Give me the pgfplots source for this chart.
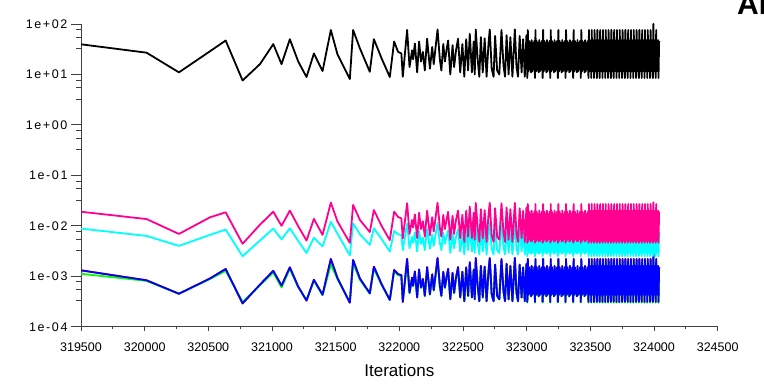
\documentclass[border=0pt]{standalone}
\usepackage{pgfplots}
\pgfplotsset{compat=1.18}
\usepackage{pgfplotstable}
\usepackage{fontspec}
\setmainfont{Liberation Sans}
\newfontfamily\ylabfont[LetterSpace=13]{Liberation Sans}
\definecolor{rpink}{HTML}{FF0090}
\definecolor{rcyan}{HTML}{00FFFF}
\definecolor{rgreen}{HTML}{00FF00}
\definecolor{rblue}{HTML}{0000FF}
\definecolor{rred}{HTML}{FF0000}
\definecolor{axgray}{HTML}{404040}

\pgfplotstableread{
it c e k z y
319500 39.6 0.019 0.0088 0.00131 0.00112
320015 27 0.0136 0.0063 0.00083 0.00081
320269 11 0.0069 0.0040 0.00045 0.00045
320512 28.7 0.0147 0.0066 0.0009 0.00088
320636 47 0.0185 0.0084 0.00139 0.00128
320769 7.6 0.0044 0.0025 0.00029 0.00031
320905 16 0.0105 0.0051 0.00068 0.00066
321010 40 0.019 0.0088 0.00128 0.00118
321075 16 0.010 0.0054 0.00065 0.0006
321140 50 0.020 0.0089 0.0015 0.0014
321206 18 0.0098 0.0050 0.00062 0.0006
321271 8.9 0.0051 0.0029 0.00033 0.00034
321329 26 0.0137 0.0058 0.00085 0.00082
321397 11.7 0.0066 0.0039 0.00043 0.00042
321462 76 0.0288 0.012 0.0022 0.0017
321514 25 0.0122 0.0070 0.00092 0.00088
321611 8.1 0.0046 0.0026 0.0003 0.00031
321637 76 0.0259 0.0112 0.0021 0.0018
321690 33 0.0131 0.0068 0.0009 0.00085
321768 11.3 0.0075 0.0042 0.00046 0.00045
321800 50 0.0205 0.0089 0.00155 0.0014
321860 21 0.010 0.0055 0.0007 0.00068
321925 8.9 0.0052 0.0031 0.00034 0.00034
321959 45 0.019 0.0079 0.00133 0.00125
321990 28 0.015 0.0068 0.0011 0.00105
322016 26 0.014 0.0066 0.00105 0.001
322027 9 0.0056 0.0033 0.00031 0.00032
322061 76 0.028 0.011 0.0022 0.0019
322080 14 0.0069 0.0036 0.00047 0.00046
322100 30 0.013 0.006 0.00094 0.0009
322108 20 0.0093 0.0046 0.00065 0.00063
322122 41 0.0168 0.0074 0.00125 0.00118
322140 11 0.0057 0.0031 0.00038 0.00038
322155 45 0.0182 0.0079 0.00136 0.00128
322170 18 0.0086 0.0044 0.0006 0.00058
322185 28 0.0123 0.0058 0.00088 0.00085
322200 12 0.0061 0.0033 0.00041 0.0004
322218 51 0.020 0.0086 0.00152 0.0014
322240 13 0.0065 0.0035 0.00044 0.00043
322258 35 0.0148 0.0067 0.00109 0.00104
322270 16 0.0077 0.0040 0.00053 0.00052
322300 78 0.0285 0.0114 0.0023 0.002
322318 20 0.0093 0.0046 0.00065 0.00063
322330 12 0.0061 0.0033 0.00041 0.0004
322345 40 0.0165 0.0073 0.00123 0.00116
322358 18 0.0086 0.0044 0.0006 0.00058
322370 30 0.013 0.006 0.00094 0.0009
322383 47 0.0189 0.0082 0.0014 0.0013
322400 10 0.0053 0.0029 0.00035 0.00035
322418 38 0.0158 0.0071 0.00117 0.0011
322430 14 0.0069 0.0036 0.00047 0.00046
322445 30 0.013 0.006 0.00094 0.0009
322461 51 0.020 0.0086 0.00152 0.0014
322478 11 0.0057 0.0031 0.00038 0.00038
322495 40 0.0165 0.0073 0.00123 0.00116
322510 9 0.0048 0.0027 0.00032 0.00032
322525 50 0.0198 0.0085 0.0015 0.0014
322540 12 0.0061 0.0033 0.00041 0.0004
322553 64 0.024 0.0100 0.0019 0.0017
322570 11 0.0057 0.0031 0.00038 0.00038
322584 45 0.0182 0.0079 0.00136 0.00128
322592 10 0.0053 0.0029 0.00035 0.00035
322600 78 0.0285 0.0114 0.0023 0.002
322615 20 0.0093 0.0046 0.00065 0.00063
322628 9 0.0048 0.0027 0.00032 0.00032
322640 55 0.0213 0.0091 0.0016 0.0015
322655 11 0.0057 0.0031 0.00038 0.00038
322670 52 0.0204 0.0087 0.00155 0.00145
322685 9 0.0048 0.0027 0.00032 0.00032
322700 40 0.0165 0.0073 0.00123 0.00116
322710 78 0.0285 0.0114 0.0023 0.002
322725 13 0.0065 0.0035 0.00044 0.00043
322740 9 0.0048 0.0027 0.00032 0.00032
322752 58 0.0223 0.0094 0.0017 0.0016
322768 12 0.0061 0.0033 0.00041 0.0004
322785 10 0.0053 0.0029 0.00035 0.00035
322802 76 0.028 0.0112 0.0022 0.0019
322818 15 0.0073 0.0038 0.0005 0.00049
322830 9 0.0048 0.0027 0.00032 0.00032
322842 60 0.023 0.0096 0.00177 0.0016
322858 10 0.0053 0.0029 0.00035 0.00035
322872 55 0.0213 0.0091 0.0016 0.0015
322888 9 0.0048 0.0027 0.00032 0.00032
322907 78 0.0285 0.0114 0.0023 0.002
322920 14 0.0069 0.0036 0.00047 0.00046
322932 9 0.0048 0.0027 0.00032 0.00032
322945 58 0.0223 0.0094 0.0017 0.0016
322960 11 0.0057 0.0031 0.00038 0.00038
322972 50 0.0198 0.0085 0.0015 0.0014
322985 9 0.0048 0.0027 0.00032 0.00032
322998 60 0.023 0.0096 0.00177 0.0016
323005 8.5 0.0046 0.0025 0.00031 0.0003
323009 76 0.027 0.0105 0.0022 0.0019
323014 11.5 0.0050 0.0029 0.00043 0.00042
323019 46 0.019 0.0075 0.0015 0.0014
323024 12.5 0.0055 0.0031 0.00046 0.00045
323029 42 0.017 0.0070 0.0013 0.0012
323034 11 0.0049 0.0028 0.0004 0.0004
323039 48 0.020 0.0078 0.0016 0.0015
323044 11.5 0.0050 0.0029 0.00043 0.00042
323049 42 0.017 0.0070 0.0013 0.0012
323054 12.5 0.0055 0.0031 0.00046 0.00045
323059 46 0.019 0.0075 0.0015 0.0014
323065 8.5 0.0046 0.0025 0.00031 0.0003
323069 76 0.027 0.0105 0.0022 0.0019
323074 11.5 0.0050 0.0029 0.00043 0.00042
323079 46 0.019 0.0075 0.0015 0.0014
323084 12.5 0.0055 0.0031 0.00046 0.00045
323089 42 0.017 0.0070 0.0013 0.0012
323094 11 0.0049 0.0028 0.0004 0.0004
323099 48 0.020 0.0078 0.0016 0.0015
323104 11.5 0.0050 0.0029 0.00043 0.00042
323109 42 0.017 0.0070 0.0013 0.0012
323114 12.5 0.0055 0.0031 0.00046 0.00045
323119 46 0.019 0.0075 0.0015 0.0014
323125 8.5 0.0046 0.0025 0.00031 0.0003
323129 76 0.027 0.0105 0.0022 0.0019
323134 11.5 0.0050 0.0029 0.00043 0.00042
323139 46 0.019 0.0075 0.0015 0.0014
323144 12.5 0.0055 0.0031 0.00046 0.00045
323149 42 0.017 0.0070 0.0013 0.0012
323154 11 0.0049 0.0028 0.0004 0.0004
323159 48 0.020 0.0078 0.0016 0.0015
323164 11.5 0.0050 0.0029 0.00043 0.00042
323169 42 0.017 0.0070 0.0013 0.0012
323174 12.5 0.0055 0.0031 0.00046 0.00045
323179 46 0.019 0.0075 0.0015 0.0014
323185 8.5 0.0046 0.0025 0.00031 0.0003
323189 76 0.027 0.0105 0.0022 0.0019
323194 11.5 0.0050 0.0029 0.00043 0.00042
323199 46 0.019 0.0075 0.0015 0.0014
323204 12.5 0.0055 0.0031 0.00046 0.00045
323209 42 0.017 0.0070 0.0013 0.0012
323214 11 0.0049 0.0028 0.0004 0.0004
323219 48 0.020 0.0078 0.0016 0.0015
323224 11.5 0.0050 0.0029 0.00043 0.00042
323229 42 0.017 0.0070 0.0013 0.0012
323234 12.5 0.0055 0.0031 0.00046 0.00045
323239 46 0.019 0.0075 0.0015 0.0014
323245 8.5 0.0046 0.0025 0.00031 0.0003
323249 76 0.027 0.0105 0.0022 0.0019
323254 11.5 0.0050 0.0029 0.00043 0.00042
323259 46 0.019 0.0075 0.0015 0.0014
323264 12.5 0.0055 0.0031 0.00046 0.00045
323269 42 0.017 0.0070 0.0013 0.0012
323274 11 0.0049 0.0028 0.0004 0.0004
323279 48 0.020 0.0078 0.0016 0.0015
323284 11.5 0.0050 0.0029 0.00043 0.00042
323289 42 0.017 0.0070 0.0013 0.0012
323294 12.5 0.0055 0.0031 0.00046 0.00045
323299 46 0.019 0.0075 0.0015 0.0014
323305 8.5 0.0046 0.0025 0.00031 0.0003
323309 76 0.027 0.0105 0.0022 0.0019
323314 11.5 0.0050 0.0029 0.00043 0.00042
323319 46 0.019 0.0075 0.0015 0.0014
323324 12.5 0.0055 0.0031 0.00046 0.00045
323329 42 0.017 0.0070 0.0013 0.0012
323334 11 0.0049 0.0028 0.0004 0.0004
323339 48 0.020 0.0078 0.0016 0.0015
323344 11.5 0.0050 0.0029 0.00043 0.00042
323349 42 0.017 0.0070 0.0013 0.0012
323354 12.5 0.0055 0.0031 0.00046 0.00045
323359 46 0.019 0.0075 0.0015 0.0014
323365 8.5 0.0046 0.0025 0.00031 0.0003
323369 76 0.027 0.0105 0.0022 0.0019
323374 11.5 0.0050 0.0029 0.00043 0.00042
323379 46 0.019 0.0075 0.0015 0.0014
323384 12.5 0.0055 0.0031 0.00046 0.00045
323389 42 0.017 0.0070 0.0013 0.0012
323394 11 0.0049 0.0028 0.0004 0.0004
323399 48 0.020 0.0078 0.0016 0.0015
323404 11.5 0.0050 0.0029 0.00043 0.00042
323409 42 0.017 0.0070 0.0013 0.0012
323414 12.5 0.0055 0.0031 0.00046 0.00045
323419 46 0.019 0.0075 0.0015 0.0014
323425 8.5 0.0046 0.0025 0.00031 0.0003
323429 76 0.027 0.0105 0.0022 0.0019
323434 11.5 0.0050 0.0029 0.00043 0.00042
323439 46 0.019 0.0075 0.0015 0.0014
323444 12.5 0.0055 0.0031 0.00046 0.00045
323449 42 0.017 0.0070 0.0013 0.0012
323454 11 0.0049 0.0028 0.0004 0.0004
323459 48 0.020 0.0078 0.0016 0.0015
323464 11.5 0.0050 0.0029 0.00043 0.00042
323469 42 0.017 0.0070 0.0013 0.0012
323474 12.5 0.0055 0.0031 0.00046 0.00045
323479 46 0.019 0.0075 0.0015 0.0014
323485 8.5 0.0046 0.0025 0.00031 0.0003
323489 76 0.027 0.0105 0.0022 0.0019
323493 11.5 0.0050 0.0029 0.00043 0.00042
323497 46 0.019 0.0075 0.0015 0.0014
323501 12.5 0.0055 0.0031 0.00046 0.00045
323504 48 0.020 0.0078 0.0016 0.0015
323507 8.5 0.0046 0.0025 0.00031 0.0003
323511 76 0.027 0.0105 0.0022 0.0019
323515 11.5 0.0050 0.0029 0.00043 0.00042
323519 46 0.019 0.0075 0.0015 0.0014
323523 12.5 0.0055 0.0031 0.00046 0.00045
323526 48 0.020 0.0078 0.0016 0.0015
323529 8.5 0.0046 0.0025 0.00031 0.0003
323533 76 0.027 0.0105 0.0022 0.0019
323537 11.5 0.0050 0.0029 0.00043 0.00042
323541 46 0.019 0.0075 0.0015 0.0014
323545 12.5 0.0055 0.0031 0.00046 0.00045
323548 48 0.020 0.0078 0.0016 0.0015
323551 8.5 0.0046 0.0025 0.00031 0.0003
323555 76 0.027 0.0105 0.0022 0.0019
323559 11.5 0.0050 0.0029 0.00043 0.00042
323563 46 0.019 0.0075 0.0015 0.0014
323567 12.5 0.0055 0.0031 0.00046 0.00045
323570 48 0.020 0.0078 0.0016 0.0015
323573 8.5 0.0046 0.0025 0.00031 0.0003
323577 76 0.027 0.0105 0.0022 0.0019
323581 11.5 0.0050 0.0029 0.00043 0.00042
323585 46 0.019 0.0075 0.0015 0.0014
323589 12.5 0.0055 0.0031 0.00046 0.00045
323592 48 0.020 0.0078 0.0016 0.0015
323595 8.5 0.0046 0.0025 0.00031 0.0003
323599 76 0.027 0.0105 0.0022 0.0019
323603 11.5 0.0050 0.0029 0.00043 0.00042
323607 46 0.019 0.0075 0.0015 0.0014
323611 12.5 0.0055 0.0031 0.00046 0.00045
323614 48 0.020 0.0078 0.0016 0.0015
323617 8.5 0.0046 0.0025 0.00031 0.0003
323621 76 0.027 0.0105 0.0022 0.0019
323625 11.5 0.0050 0.0029 0.00043 0.00042
323629 46 0.019 0.0075 0.0015 0.0014
323633 12.5 0.0055 0.0031 0.00046 0.00045
323636 48 0.020 0.0078 0.0016 0.0015
323639 8.5 0.0046 0.0025 0.00031 0.0003
323643 76 0.027 0.0105 0.0022 0.0019
323647 11.5 0.0050 0.0029 0.00043 0.00042
323651 46 0.019 0.0075 0.0015 0.0014
323655 12.5 0.0055 0.0031 0.00046 0.00045
323658 48 0.020 0.0078 0.0016 0.0015
323661 8.5 0.0046 0.0025 0.00031 0.0003
323665 76 0.027 0.0105 0.0022 0.0019
323669 11.5 0.0050 0.0029 0.00043 0.00042
323673 46 0.019 0.0075 0.0015 0.0014
323677 12.5 0.0055 0.0031 0.00046 0.00045
323680 48 0.020 0.0078 0.0016 0.0015
323683 8.5 0.0046 0.0025 0.00031 0.0003
323687 76 0.027 0.0105 0.0022 0.0019
323691 11.5 0.0050 0.0029 0.00043 0.00042
323695 46 0.019 0.0075 0.0015 0.0014
323699 12.5 0.0055 0.0031 0.00046 0.00045
323702 48 0.020 0.0078 0.0016 0.0015
323705 8.5 0.0046 0.0025 0.00031 0.0003
323709 76 0.027 0.0105 0.0022 0.0019
323713 11.5 0.0050 0.0029 0.00043 0.00042
323717 46 0.019 0.0075 0.0015 0.0014
323721 12.5 0.0055 0.0031 0.00046 0.00045
323724 48 0.020 0.0078 0.0016 0.0015
323727 8.5 0.0046 0.0025 0.00031 0.0003
323731 76 0.027 0.0105 0.0022 0.0019
323735 11.5 0.0050 0.0029 0.00043 0.00042
323739 46 0.019 0.0075 0.0015 0.0014
323743 12.5 0.0055 0.0031 0.00046 0.00045
323746 48 0.020 0.0078 0.0016 0.0015
323749 8.5 0.0046 0.0025 0.00031 0.0003
323753 76 0.027 0.0105 0.0022 0.0019
323757 11.5 0.0050 0.0029 0.00043 0.00042
323761 46 0.019 0.0075 0.0015 0.0014
323765 12.5 0.0055 0.0031 0.00046 0.00045
323768 48 0.020 0.0078 0.0016 0.0015
323771 8.5 0.0046 0.0025 0.00031 0.0003
323775 76 0.027 0.0105 0.0022 0.0019
323779 11.5 0.0050 0.0029 0.00043 0.00042
323783 46 0.019 0.0075 0.0015 0.0014
323787 12.5 0.0055 0.0031 0.00046 0.00045
323790 48 0.020 0.0078 0.0016 0.0015
323793 8.5 0.0046 0.0025 0.00031 0.0003
323797 76 0.027 0.0105 0.0022 0.0019
323801 11.5 0.0050 0.0029 0.00043 0.00042
323805 46 0.019 0.0075 0.0015 0.0014
323809 12.5 0.0055 0.0031 0.00046 0.00045
323812 48 0.020 0.0078 0.0016 0.0015
323815 8.5 0.0046 0.0025 0.00031 0.0003
323819 76 0.027 0.0105 0.0022 0.0019
323823 11.5 0.0050 0.0029 0.00043 0.00042
323827 46 0.019 0.0075 0.0015 0.0014
323831 12.5 0.0055 0.0031 0.00046 0.00045
323834 48 0.020 0.0078 0.0016 0.0015
323837 8.5 0.0046 0.0025 0.00031 0.0003
323841 76 0.027 0.0105 0.0022 0.0019
323845 11.5 0.0050 0.0029 0.00043 0.00042
323849 46 0.019 0.0075 0.0015 0.0014
323853 12.5 0.0055 0.0031 0.00046 0.00045
323856 48 0.020 0.0078 0.0016 0.0015
323859 8.5 0.0046 0.0025 0.00031 0.0003
323863 76 0.027 0.0105 0.0022 0.0019
323867 11.5 0.0050 0.0029 0.00043 0.00042
323871 46 0.019 0.0075 0.0015 0.0014
323875 12.5 0.0055 0.0031 0.00046 0.00045
323878 48 0.020 0.0078 0.0016 0.0015
323881 8.5 0.0046 0.0025 0.00031 0.0003
323885 76 0.027 0.0105 0.0022 0.0019
323889 11.5 0.0050 0.0029 0.00043 0.00042
323893 46 0.019 0.0075 0.0015 0.0014
323897 12.5 0.0055 0.0031 0.00046 0.00045
323900 48 0.020 0.0078 0.0016 0.0015
323903 8.5 0.0046 0.0025 0.00031 0.0003
323907 76 0.027 0.0105 0.0022 0.0019
323911 11.5 0.0050 0.0029 0.00043 0.00042
323915 46 0.019 0.0075 0.0015 0.0014
323919 12.5 0.0055 0.0031 0.00046 0.00045
323922 48 0.020 0.0078 0.0016 0.0015
323925 8.5 0.0046 0.0025 0.00031 0.0003
323929 76 0.027 0.0105 0.0022 0.0019
323933 11.5 0.0050 0.0029 0.00043 0.00042
323937 46 0.019 0.0075 0.0015 0.0014
323941 12.5 0.0055 0.0031 0.00046 0.00045
323944 48 0.020 0.0078 0.0016 0.0015
323947 8.5 0.0046 0.0025 0.00031 0.0003
323951 76 0.027 0.0105 0.0022 0.0019
323955 11.5 0.0050 0.0029 0.00043 0.00042
323959 46 0.019 0.0075 0.0015 0.0014
323963 12.5 0.0055 0.0031 0.00046 0.00045
323966 48 0.020 0.0078 0.0016 0.0015
323969 8.5 0.0046 0.0025 0.00031 0.0003
323973 76 0.027 0.0105 0.0022 0.0019
323977 11.5 0.0050 0.0029 0.00043 0.00042
323981 46 0.019 0.0075 0.0015 0.0014
323985 12.5 0.0055 0.0031 0.00046 0.00045
323988 48 0.020 0.0078 0.0016 0.0015
323991 8.5 0.0046 0.0025 0.00031 0.0003
323995 100 0.029 0.0115 0.0028 0.0024
323999 11.5 0.0050 0.0029 0.00043 0.00042
324003 46 0.019 0.0075 0.0015 0.0014
324007 12.5 0.0055 0.0031 0.00046 0.00045
324010 48 0.020 0.0078 0.0016 0.0015
324013 8.5 0.0046 0.0025 0.00031 0.0003
324017 76 0.027 0.0105 0.0022 0.0019
324021 11.5 0.0050 0.0029 0.00043 0.00042
324025 46 0.019 0.0075 0.0015 0.0014
324029 12.5 0.0055 0.0031 0.00046 0.00045
324032 48 0.020 0.0078 0.0016 0.0015
324035 8.5 0.0046 0.0025 0.00031 0.0003
324040 46 0.019 0.0075 0.0015 0.0014
}\resid

\begin{document}
\begin{tikzpicture}
\path[use as bounding box] (0pt,0pt) rectangle (764pt,388pt);
\node[anchor=base west, font=\fontsize{30}{30}\selectfont\bfseries, inner sep=0pt] at (737pt,373pt) {ANSYS};
\begin{axis}[
  scale only axis,
  width=636.7pt, height=302.7pt,
  at={(81pt,61.3pt)}, anchor=south west,
  xmin=319500, xmax=324500,
  ymode=log, ymin=1e-4, ymax=1e2,
  scaled x ticks=false,
  axis x line*=bottom, axis y line*=left,
  axis line style={-, axgray, line width=0.8pt},
  tick style={axgray, line width=0.8pt},
  tick align=outside,
  major tick length=10pt, minor tick length=5pt,
  xtick style={/pgfplots/major tick length=4.5pt, /pgfplots/minor tick length=2.5pt},
  xtick={319500,320000,320500,321000,321500,322000,322500,323000,323500,324000,324500},
  xticklabels={319500,320000,320500,321000,321500,322000,322500,323000,323500,324000,324500},
  minor xtick={319750,320250,320750,321250,321750,322250,322750,323250,323750,324250},
  ytick={1e-4,1e-3,1e-2,1e-1,1,10,100},
  yticklabels={1e-04,1e-03,1e-02,1e-01,1e+00,1e+01,1e+02},
  minor ytick={3.25e-4,5.5e-4,7.75e-4,3.25e-3,5.5e-3,7.75e-3,0.0325,0.055,0.0775,0.325,0.55,0.775,3.25,5.5,7.75,32.5,55,77.5},
  xticklabel style={font=\fontsize{12.5}{14}\selectfont, anchor=north, yshift=-3pt},
  yticklabel style={font=\ylabfont\fontsize{12.5}{14}\selectfont, anchor=east},
  xlabel={Iterations},
  xlabel style={font=\fontsize{17}{20}\selectfont, at={(axis description cs:0.5,0)}, anchor=base, yshift=-49.3pt},
  every axis plot/.append style={line width=1.8pt, mark=none, line join=round},
]
\addplot[black] table[x=it,y=c]{\resid};
\addplot[rred] table[x=it,y=z]{\resid};
\addplot[rgreen] table[x=it,y=y]{\resid};
\addplot[rblue] table[x=it,y=z]{\resid};
\addplot[rcyan] table[x=it,y=k]{\resid};
\addplot[rpink] table[x=it,y=e]{\resid};
\end{axis}
\end{tikzpicture}
\end{document}
